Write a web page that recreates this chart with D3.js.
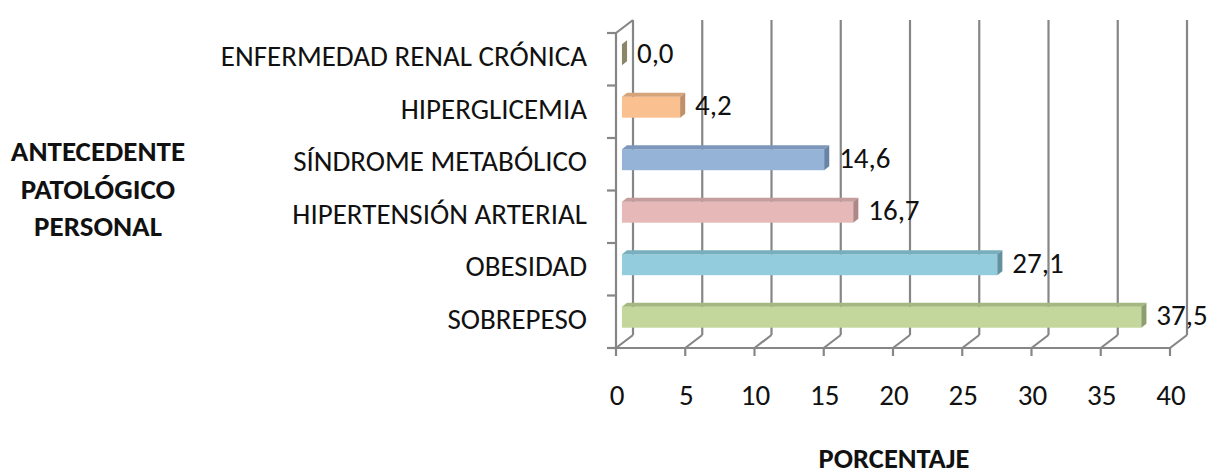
<!DOCTYPE html>
<html>
<head>
<meta charset="utf-8">
<script src="https://cdn.jsdelivr.net/npm/d3@7"></script>
<style>
  html, body { margin: 0; padding: 0; background: #fff; }
  svg { display: block; }
  text { font-family: Carlito, Calibri, "Open Sans", sans-serif; fill: #111; }
</style>
</head>
<body>
<svg id="chart" width="1212" height="475"></svg>
<script>
// Antecedentes patológicos personales (%), top to bottom
const categories = [
  "ENFERMEDAD RENAL CRÓNICA",
  "HIPERGLICEMIA",
  "SÍNDROME METABÓLICO",
  "HIPERTENSIÓN ARTERIAL",
  "OBESIDAD",
  "SOBREPESO"
];
const values = [0.0, 4.2, 14.6, 16.7, 27.1, 37.5];
const valueLabels = ["0,0", "4,2", "14,6", "16,7", "27,1", "37,5"];
const xTicks = [0, 5, 10, 15, 20, 25, 30, 35, 40];
const frontColors = ["#C4BD97", "#FAC090", "#95B3D7", "#E6B9B8", "#93CDDD", "#C3D69B"];
const topColors   = ["#A39D7C", "#D6A47B", "#7C97BA", "#C49D9C", "#78AEBD", "#A4B882"];
const endColors   = ["#8A866A", "#BF9069", "#6883A5", "#AE8887", "#62929F", "#8E9E6C"];

const svg = d3.select("#chart");

// 3D box geometry: front plane, plus a receding depth offset
const DX = 17, DY = -13;
const x = d3.scaleLinear().domain([0, 40]).range([616, 1170]);
const y = d3.scaleBand().domain(categories).range([33, 348]).paddingInner(0).paddingOuter(0);
const yBottom = 348, yTopBack = 20;
const barFrac0 = 0.35, barFrac1 = 0.65;     // bar depth position inside the box
const barRatio = 0.4;                       // bar thickness relative to band
const FS = 29;                              // regular label size

const grid = svg.append("g").attr("stroke", "#868686").attr("stroke-width", 2.2).attr("fill", "none");

// back wall vertical gridlines
xTicks.forEach(t => {
  grid.append("line")
    .attr("x1", x(t) + DX).attr("x2", x(t) + DX)
    .attr("y1", yTopBack).attr("y2", yBottom + DY);
  // floor diagonals
  grid.append("line")
    .attr("x1", x(t)).attr("y1", yBottom)
    .attr("x2", x(t) + DX).attr("y2", yBottom + DY);
  // tick marks under the front edge
  grid.append("line")
    .attr("x1", x(t)).attr("x2", x(t))
    .attr("y1", yBottom).attr("y2", yBottom + 8);
});

// front bottom edge
grid.append("line")
  .attr("x1", x(0)).attr("x2", x(40))
  .attr("y1", yBottom).attr("y2", yBottom);

// left wall: front edge and top diagonal
grid.append("line")
  .attr("x1", x(0)).attr("x2", x(0))
  .attr("y1", yTopBack - DY).attr("y2", yBottom);
grid.append("line")
  .attr("x1", x(0)).attr("y1", yTopBack - DY)
  .attr("x2", x(0) + DX).attr("y2", yTopBack);

// category ticks on the left axis (band boundaries)
const bounds = categories.map(c => y(c)).concat([y.range()[1]]);
bounds.forEach(b => {
  grid.append("line")
    .attr("x1", x(0) - 9).attr("x2", x(0))
    .attr("y1", b).attr("y2", b);
});

// bars
const bx0 = DX * barFrac0, by0 = DY * barFrac0;
const bdx = DX * (barFrac1 - barFrac0), bdy = DY * (barFrac1 - barFrac0);
const bh = y.bandwidth() * barRatio;

const bars = svg.append("g");
categories.forEach((c, i) => {
  const cy = y(c) + y.bandwidth() / 2 + by0;
  const xs = x(0) + bx0, xe = x(values[i]) + bx0;
  const yt = cy - bh / 2, yb = cy + bh / 2;
  const g = bars.append("g");
  // front face
  g.append("rect")
    .attr("x", xs).attr("y", yt)
    .attr("width", Math.max(0, xe - xs)).attr("height", bh)
    .attr("fill", frontColors[i]);
  // top face
  g.append("path")
    .attr("d", `M${xs},${yt} L${xs + bdx},${yt + bdy} L${xe + bdx},${yt + bdy} L${xe},${yt} Z`)
    .attr("fill", topColors[i]);
  // end face
  g.append("path")
    .attr("d", `M${xe},${yt} L${xe + bdx},${yt + bdy} L${xe + bdx},${yb + bdy} L${xe},${yb} Z`)
    .attr("fill", endColors[i]);

  // value label
  svg.append("text")
    .attr("x", xe + 15).attr("y", cy + 1)
    .attr("dominant-baseline", "middle")
    .attr("font-size", FS)
    .text(valueLabels[i]);

  // category label
  svg.append("text")
    .attr("x", 587).attr("y", y(c) + y.bandwidth() / 2)
    .attr("text-anchor", "end")
    .attr("dominant-baseline", "middle")
    .attr("font-size", FS)
    .text(c);
});

// x tick labels
xTicks.forEach(t => {
  svg.append("text")
    .attr("x", x(t) + 1).attr("y", 398)
    .attr("text-anchor", "middle")
    .attr("dominant-baseline", "middle")
    .attr("font-size", FS)
    .text(t);
});

// axis titles
svg.append("text")
  .attr("x", 894).attr("y", 461)
  .attr("text-anchor", "middle")
  .attr("dominant-baseline", "middle")
  .attr("font-size", 28.5).attr("font-weight", "bold")
  .text("PORCENTAJE");

const yTitle = ["ANTECEDENTE", "PATOLÓGICO", "PERSONAL"];
yTitle.forEach((line, k) => {
  svg.append("text")
    .attr("x", 98).attr("y", 154 + k * 37.5)
    .attr("text-anchor", "middle")
    .attr("dominant-baseline", "middle")
    .attr("font-size", 29).attr("font-weight", "bold")
    .text(line);
});
</script>
</body>
</html>
